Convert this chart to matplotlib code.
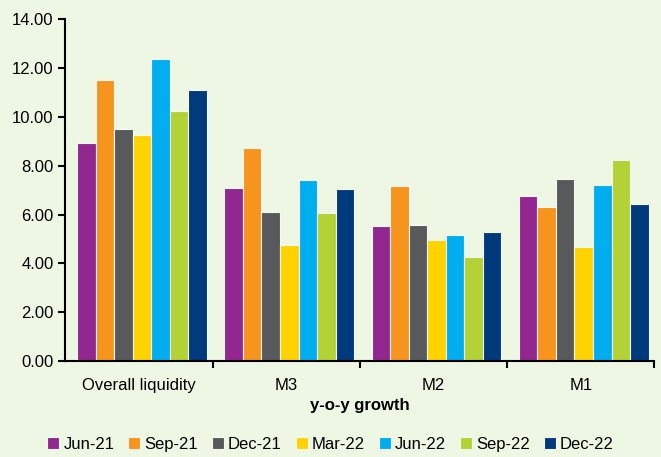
import numpy as np
import matplotlib
matplotlib.use("Agg")
import matplotlib.pyplot as plt

categories = ["Overall liquidity", "M3", "M2", "M1"]
periods = ["Jun-21", "Sep-21", "Dec-21", "Mar-22", "Jun-22", "Sep-22", "Dec-22"]
colors = ["#92278F", "#F7941D", "#58595B", "#FFD200", "#00AEEF", "#B2D235", "#003A7D"]

# growth values per period, in category order
jun21 = [8.92, 7.10, 5.55, 6.75]
sep21 = [11.50, 8.72, 7.15, 6.30]
dec21 = [9.50, 6.12, 5.58, 7.45]
mar22 = [9.25, 4.75, 4.95, 4.65]
jun22 = [12.38, 7.40, 5.15, 7.20]
sep22 = [10.23, 6.05, 4.25, 8.22]
dec22 = [11.10, 7.05, 5.28, 6.45]
series = [jun21, sep21, dec21, mar22, jun22, sep22, dec22]

plt.rcParams['font.family'] = ['Liberation Sans', 'DejaVu Sans']
bg = "#EEF6E4"
fs = 12

fig = plt.figure(figsize=(6.61, 4.57), dpi=100, facecolor=bg)
ax = fig.add_axes([0.099, 0.21, 0.891, 0.748], facecolor=bg)

x = np.arange(len(categories))
w = 0.126
for i, (vals, c) in enumerate(zip(series, colors)):
    ax.bar(x + (i - 3) * w + 0.02, vals, width=w, color=c, edgecolor="#f4f8ee",
           linewidth=0.8, label=periods[i])

ax.set_xlim(-0.5, 3.5)
ax.set_ylim(0, 14)
ax.set_yticks(np.arange(0, 15, 2))
ax.set_yticklabels([f"{v:.2f}" for v in np.arange(0, 15, 2)], fontsize=fs)
ax.set_xticks(x)
ax.set_xticklabels(categories, fontsize=fs)
ax.tick_params(axis='x', length=0, pad=12)
ax.set_xticks([0.5, 1.5, 2.5, 3.5], minor=True)
ax.tick_params(axis='x', which='minor', length=5, width=1.5, direction='out')
ax.tick_params(axis='y', length=5, width=1.5, direction='out')
for s in ["top", "right"]:
    ax.spines[s].set_visible(False)
for s in ["left", "bottom"]:
    ax.spines[s].set_linewidth(1.5)
ax.set_xlabel("y-o-y growth", fontsize=fs, fontweight='bold', labelpad=4)

fig.legend(loc="center", bbox_to_anchor=(0.5, 0.028), ncol=7, frameon=False,
           fontsize=fs, handlelength=0.7, handleheight=0.7, handletextpad=0.25,
           columnspacing=0.85)

fig.savefig("out.png", dpi=100, facecolor=bg)
